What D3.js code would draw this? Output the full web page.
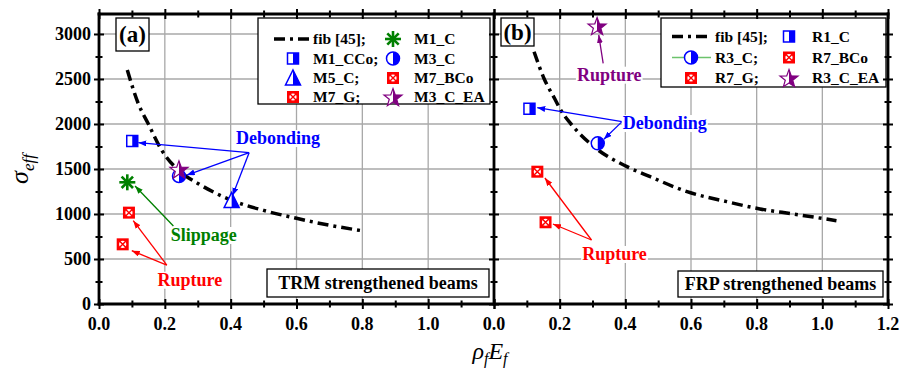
<!DOCTYPE html>
<html><head><meta charset="utf-8">
<script src="https://cdn.jsdelivr.net/npm/d3@7"></script>
<style>
body{margin:0;background:#fff}
svg text{font-family:"Liberation Serif","Times New Roman",serif}
</style>
</head><body>
<svg id="chart" width="903" height="369"></svg>
<script>
// ---------- data ----------
const xTickValues = [0, 0.2, 0.4, 0.6, 0.8, 1.0, 1.2];
const xMinorValues = [0.1, 0.3, 0.5, 0.7, 0.9, 1.1];
const yTickValues = [0, 500, 1000, 1500, 2000, 2500, 3000];
const yMinorValues = [250, 750, 1250, 1750, 2250, 2750];

// fib [45] curve, panel (a) TRM
const fibA_x = [0.086, 0.119, 0.15, 0.19, 0.26, 0.30, 0.40, 0.50, 0.60, 0.70, 0.80];
const fibA_y = [2600, 2230, 2000, 1711, 1433, 1340, 1156, 1040, 952, 875, 814];
// fib [45] curve, panel (b) FRP
const fibB_x = [0.122, 0.152, 0.187, 0.203, 0.233, 0.304, 0.405, 0.476, 0.588, 0.709, 0.81, 0.912, 1.043];
const fibB_y = [2803, 2508, 2267, 2156, 2007, 1748, 1526, 1414, 1248, 1137, 1056, 1000, 926];

// experimental points, panel (a)
const trmNames = ["M1_CCo", "M3_C", "M3_C_EA", "M5_C", "M1_C", "M7_BCo", "M7_G"];
const trmX = [0.101, 0.243, 0.243, 0.403, 0.086, 0.091, 0.072];
const trmY = [1811, 1422, 1496, 1150, 1352, 1015, 663];
const trmSym = ["hsquare", "hcircle", "star", "htri", "aster", "xsq", "xsq"];

// experimental points, panel (b)
const frpNames = ["R1_C", "R3_C", "R3_C_EA", "R7_BCo", "R7_G"];
const frpX = [0.108, 0.316, 0.314, 0.132, 0.157];
const frpY = [2170, 1785, 3089, 1470, 908];
const frpSym = ["hsquare", "hcircle", "star", "xsq", "xsq"];

// legends
const legendA = [
  ["fib", "fib [45];"], ["aster", "M1_C"],
  ["hsquare", "M1_CCo;"], ["hcircle", "M3_C"],
  ["htri", "M5_C;"], ["xsq", "M7_BCo"],
  ["xsq", "M7_G;"], ["star", "M3_C_EA"]
];
const legendB = [
  ["fib", "fib [45];"], ["hsquare", "R1_C"],
  ["hcircleLine", "R3_C;"], ["xsq", "R7_BCo"],
  ["xsq", "R7_G;"], ["star", "R3_C_EA"]
];

// annotations (data units): text, colour, text x, text baseline y, arrow origin, arrow targets
const annotA = [
  {t: "Debonding", c: "#0000FF", x: 0.544, y: 1777, o: [0.456, 1681], to: [[0.1195, 1792], [0.2668, 1433], [0.4055, 1203]]},
  {t: "Slippage", c: "#008000", x: 0.318, y: 700, o: [0.226, 867], to: [[0.1095, 1311]]},
  {t: "Rupture", c: "#FF0000", x: 0.276, y: 203, o: [0.206, 433], to: [[0.104, 926], [0.0995, 592]]}
];
const annotB = [
  {t: "Debonding", c: "#0000FF", x: 0.520, y: 1944, o: [0.390, 2026], to: [[0.1317, 2181], [0.3346, 1830]]},
  {t: "Rupture", c: "#800080", x: 0.351, y: 2481, o: [0.3325, 2674], to: [[0.319, 2989]]},
  {t: "Rupture", c: "#FF0000", x: 0.367, y: 489, o: [0.297, 711], to: [[0.155, 1400], [0.1795, 889]]}
];

// ---------- scales ----------
const L = 99, M = 494, R = 888, T = 14, B = 304;
const y = d3.scaleLinear().domain([0, 3222]).range([B, T]);
const xA = d3.scaleLinear().domain([0, 1.2]).range([L, M]);
const xB = d3.scaleLinear().domain([0, 1.2]).range([M, R]);

const svg = d3.select("#chart");
const defs = svg.append("defs");
defs.append("clipPath").attr("id", "rh").append("rect")
  .attr("x", 0).attr("y", -20).attr("width", 20).attr("height", 40);
const colors = {"#0000FF": "ab", "#008000": "ag", "#FF0000": "ar", "#800080": "ap"};
Object.entries(colors).forEach(([c, id]) => {
  defs.append("marker").attr("id", id).attr("viewBox", "0 0 8 6")
    .attr("refX", 8).attr("refY", 3).attr("markerWidth", 8).attr("markerHeight", 6)
    .attr("markerUnits", "userSpaceOnUse").attr("orient", "auto")
    .append("path").attr("d", "M0,0L8,3L0,6Z").attr("fill", c);
});

// ---------- grid ----------
const grid = svg.append("g").attr("stroke", "#a8a8a8").attr("stroke-width", 1.3);
[xA, xB].forEach(xs => {
  [0.2, 0.4, 0.6, 0.8, 1.0].forEach(v => grid.append("line")
    .attr("x1", xs(v)).attr("x2", xs(v)).attr("y1", T).attr("y2", B));
  yTickValues.slice(1).forEach(v => grid.append("line")
    .attr("x1", xs.range()[0]).attr("x2", xs.range()[1]).attr("y1", y(v)).attr("y2", y(v)));
});

// ---------- fib curves ----------
const fibStyle = s => s.attr("fill", "none").attr("stroke", "#000").attr("stroke-width", 3.5)
  .attr("stroke-dasharray", "11,5,3,5");
svg.append("path").datum(fibA_x.map((v, i) => [v, fibA_y[i]]))
  .attr("d", d3.line().x(d => xA(d[0])).y(d => y(d[1])).curve(d3.curveMonotoneX)).call(fibStyle);
svg.append("path").datum(fibB_x.map((v, i) => [v, fibB_y[i]]))
  .attr("d", d3.line().x(d => xB(d[0])).y(d => y(d[1])).curve(d3.curveMonotoneX)).call(fibStyle);

// ---------- markers ----------
const starPath = (() => {
  const pts = [];
  for (let i = 0; i < 10; i++) {
    const r = i % 2 ? 3.9 : 9.5, a = -Math.PI / 2 + i * Math.PI / 5;
    pts.push([r * Math.cos(a), r * Math.sin(a) + 1]);
  }
  return "M" + pts.map(p => p.join(",")).join("L") + "Z";
})();
function marker(g0, type, cx, cy) {
  const g = g0.append("g").attr("transform", `translate(${cx},${cy})`);
  const half = (d, c, sw) => {
    g.append("path").attr("d", d).attr("fill", "#fff");
    g.append("path").attr("d", d).attr("fill", c).attr("clip-path", "url(#rh)");
    g.append("path").attr("d", d).attr("fill", "none").attr("stroke", c).attr("stroke-width", sw);
  };
  if (type === "hsquare") half("M-5.5,-5.5H5.5V5.5H-5.5Z", "#0000FF", 1.5);
  else if (type === "hcircle" || type === "hcircleLine") {
    if (type === "hcircleLine") g.append("line").attr("x1", -19).attr("x2", 20)
      .attr("stroke", "#6cc36c").attr("stroke-width", 1.3);
    half("M-6.5,0A6.5,6.5 0 1,0 6.5,0A6.5,6.5 0 1,0 -6.5,0Z", "#0000FF", 1.5);
  }
  else if (type === "htri") half("M0,-8L7.5,7L-7.5,7Z", "#0000FF", 1.5);
  else if (type === "star") half(starPath, "#800080", 1.2);
  else if (type === "aster") {
    [[0, -8, 0, 8], [-8, 0, 8, 0], [-5.7, -5.7, 5.7, 5.7], [-5.7, 5.7, 5.7, -5.7]].forEach(l =>
      g.append("line").attr("x1", l[0]).attr("y1", l[1]).attr("x2", l[2]).attr("y2", l[3])
        .attr("stroke", "#008000").attr("stroke-width", 2.6));
  } else if (type === "xsq") {
    g.append("rect").attr("x", -6).attr("y", -6).attr("width", 12).attr("height", 12)
      .attr("fill", "#FF0000");
    g.append("circle").attr("r", 4.3).attr("fill", "#fff").attr("stroke", "#FF0000").attr("stroke-width", 1.4);
    g.append("path").attr("d", "M-3,-3L3,3M-3,3L3,-3").attr("stroke", "#FF0000").attr("stroke-width", 1.4);
  } else if (type === "fib") {
    g.append("line").attr("x1", -19).attr("x2", 17).call(fibStyle);
  }
}
const pts = svg.append("g");
// draw circle before star so star sits on top
trmX.forEach((v, i) => marker(pts, trmSym[i], xA(v), y(trmY[i])));
frpX.forEach((v, i) => marker(pts, frpSym[i], xB(v), y(frpY[i])));

// ---------- annotations ----------
function annotate(list, xs) {
  list.forEach(a => {
    a.to.forEach(t => svg.append("line")
      .attr("x1", xs(a.o[0])).attr("y1", y(a.o[1])).attr("x2", xs(t[0])).attr("y2", y(t[1]))
      .attr("stroke", a.c).attr("stroke-width", 1.3).attr("marker-end", `url(#${colors[a.c]})`));
    const txt = svg.append("text").attr("x", xs(a.x)).attr("y", y(a.y))
      .attr("text-anchor", "middle").attr("font-size", 18).attr("font-weight", "bold")
      .attr("fill", a.c).text(a.t);
    const bb = txt.node().getBBox();
    svg.insert("rect", () => txt.node()).attr("x", bb.x - 1).attr("y", bb.y + 2)
      .attr("width", bb.width + 2).attr("height", bb.height - 3).attr("fill", "#fff");
  });
}
annotate(annotA, xA);
annotate(annotB, xB);

// ---------- legends ----------
function legend(items, box, rows, c1, c2) {
  svg.append("rect").attr("x", box[0]).attr("y", box[1]).attr("width", box[2] - box[0])
    .attr("height", box[3] - box[1]).attr("fill", "#fff").attr("stroke", "#000").attr("stroke-width", 1.3);
  items.forEach((it, i) => {
    const r = Math.floor(i / 2), c = i % 2 ? c2 : c1;
    marker(svg, it[0], c[0], rows[r]);
    svg.append("text").attr("x", c[1]).attr("y", rows[r]).attr("dy", "0.35em")
      .attr("font-size", 15.5).attr("font-weight", "bold").text(it[1]);
  });
}
legend(legendA, [258, 18, 490, 104], [39, 58.5, 78, 97], [293, 313], [393, 414]);
legend(legendB, [661, 18, 886, 87], [36.5, 57.5, 78], [691, 715], [789, 812]);

// ---------- text boxes ----------
function tbox(b, label, lx, ly, fs) {
  svg.append("rect").attr("x", b[0]).attr("y", b[1]).attr("width", b[2] - b[0]).attr("height", b[3] - b[1])
    .attr("fill", "#fff").attr("stroke", "#000").attr("stroke-width", 1.3);
  svg.append("text").attr("x", lx).attr("y", ly).attr("text-anchor", "middle")
    .attr("font-size", fs).attr("font-weight", "bold").text(label);
}
tbox([267, 269, 489, 297], "TRM strengthened beams", 378, 289, 18);
tbox([678, 271, 883, 297], "FRP strengthened beams", 780.5, 290, 18);
tbox([116, 18, 149, 51], "(a)", 132.5, 42, 23);
tbox([501, 18, 534, 46], "(b)", 517.5, 40, 23);

// ---------- axes ----------
const ax = svg.append("g");
function ticks(g, gen, major, minor) {
  g.append("g").call(gen.tickValues(major).tickSize(5).tickFormat(""));
  g.append("g").call(gen.tickValues(major).tickSize(-5).tickFormat(""));
  g.append("g").call(gen.tickValues(minor).tickSize(3.5).tickFormat(""));
  g.append("g").call(gen.tickValues(minor).tickSize(-3.5).tickFormat(""));
}
[xA, xB].forEach(xs => {
  ticks(ax.append("g").attr("transform", `translate(0,${B})`), d3.axisBottom(xs), xTickValues, xMinorValues);
  ticks(ax.append("g").attr("transform", `translate(0,${T})`), d3.axisTop(xs), xTickValues, xMinorValues);
});
[L, M].forEach(px => ticks(ax.append("g").attr("transform", `translate(${px},0)`), d3.axisLeft(y), yTickValues, yMinorValues));
ticks(ax.append("g").attr("transform", `translate(${R},0)`), d3.axisRight(y), yTickValues, yMinorValues);
ax.selectAll(".domain").remove();
ax.selectAll(".tick line").attr("stroke", "#000").attr("stroke-width", 2);

// frame
[[L, T, L, B], [M, T, M, B], [R, T, R, B], [L, B, R, B], [L, T, R, T]].forEach(l =>
  svg.append("line").attr("x1", l[0]).attr("y1", l[1]).attr("x2", l[2]).attr("y2", l[3])
    .attr("stroke", "#000").attr("stroke-width", 2.8).attr("stroke-linecap", "square"));

// tick labels
const fmt = d3.format(".1f");
xTickValues.slice(0, 6).forEach(v => svg.append("text").attr("x", xA(v)).attr("y", 330)
  .attr("text-anchor", "middle").attr("font-size", 18).attr("font-weight", "bold").text(fmt(v)));
xTickValues.forEach(v => svg.append("text").attr("x", xB(v)).attr("y", 330)
  .attr("text-anchor", "middle").attr("font-size", 18).attr("font-weight", "bold").text(fmt(v)));
yTickValues.forEach(v => svg.append("text").attr("x", 91).attr("y", y(v)).attr("dy", "0.34em")
  .attr("text-anchor", "end").attr("font-size", 18).attr("font-weight", "bold").text(v));

// axis titles
const yt = svg.append("text").attr("transform", "translate(28,169) rotate(-90)")
  .attr("text-anchor", "middle").attr("font-style", "italic");
yt.append("tspan").attr("font-size", 26).text("σ");
yt.append("tspan").attr("font-size", 17).attr("dy", 6).text("eff");

const xt = svg.append("text").attr("x", 490).attr("y", 359).attr("text-anchor", "middle")
  .attr("font-style", "italic");
xt.append("tspan").attr("font-size", 24).text("ρ");
xt.append("tspan").attr("font-size", 16).attr("dy", 5).text("f");
xt.append("tspan").attr("font-size", 24).attr("dy", -5).text("E");
xt.append("tspan").attr("font-size", 16).attr("dy", 5).text("f");
</script>
</body></html>
